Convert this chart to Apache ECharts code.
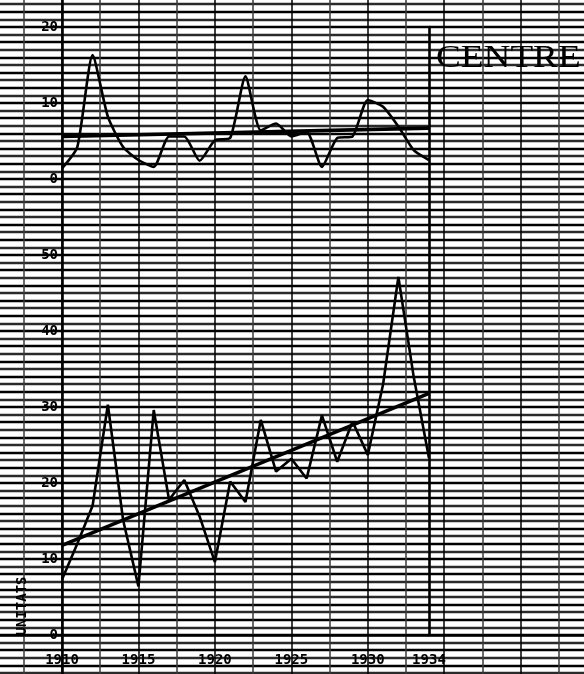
<!DOCTYPE html>
<html><head><meta charset="utf-8">
<script src="https://cdn.jsdelivr.net/npm/echarts@6/dist/echarts.min.js"></script>
<style>html,body{margin:0;padding:0;background:#fff}#c{width:584px;height:674px}</style>
</head><body><div id="c"></div>
<script>
// ---- data ----
const years = [1910,1911,1912,1913,1914,1915,1916,1917,1918,1919,1920,1921,1922,1923,1924,1925,1926,1927,1928,1929,1930,1931,1932,1933,1934];
const upperValues = [1.4,4.2,16.3,8.2,4.2,2.5,1.6,5.6,5.6,2.4,5.1,5.4,13.5,6.4,7.3,5.6,6.2,1.6,5.4,5.6,10.4,9.5,6.9,3.8,2.5];
const lowerValues = [7.3,12.0,17.0,30.3,15.1,6.4,29.6,17.8,20.4,15.6,9.6,20.2,17.5,28.3,21.5,23.2,20.6,28.9,22.8,28.1,23.7,33.0,47.1,34.0,23.3];
const trendYears = [1910, 1934];
const upperTrend = [5.6, 6.7];
const lowerTrend = [11.8, 31.8];
const xLabelYears = [1910, 1915, 1920, 1925, 1930, 1934];
const upperYTicks = [0, 10, 20];
const lowerYTicks = [0, 10, 20, 30, 40, 50];
const panelTitle = 'CENTRE';
const unitLabel = 'UNITATS';

// ---- layout ----
const X0 = 62, PXY = 15.29, Y0B = 635, PXU = 7.6;
const firstYear = years[0], lastYear = years[years.length - 1];
const plotW = (lastYear - firstYear) * PXY;
const upperMax = upperYTicks[upperYTicks.length - 1];
const lowerMax = lowerYTicks[lowerYTicks.length - 1];
const upperOffset = 60; // upper panel zero sits 60 paper units above lower zero
const monoFont = 'DejaVu Sans Mono';

const pairs = (xs, vs) => xs.map((x, i) => [x, vs[i]]);
const plain = v => String(v);

const chart = echarts.init(document.getElementById('c'), null, {renderer: 'canvas'});

const hidden = {show: false};
const panelX = (idx, labels) => ({
  gridIndex: idx, type: 'value', min: firstYear, max: lastYear, interval: 5,
  axisLine: hidden, axisTick: hidden, splitLine: hidden,
  axisLabel: labels ? {
    show: true, customValues: xLabelYears, showMaxLabel: true, margin: 18, formatter: plain,
    fontFamily: monoFont, fontSize: 14, fontWeight: 'bold', color: '#000'
  } : hidden
});
const panelY = (idx, max, show, pos) => ({
  gridIndex: idx, type: 'value', min: 0, max: max, interval: 10, position: pos || 'left',
  axisLine: pos === 'right' ? {show: true, lineStyle: {color: '#000', width: 2.6}} : hidden,
  axisTick: hidden, splitLine: hidden,
  axisLabel: show ? {show: true, margin: 4, formatter: plain, fontFamily: monoFont, fontSize: 14, fontWeight: 'bold', color: '#000'} : hidden
});

const option = {
  backgroundColor: '#fff',
  animation: false,
  grid: [
    // graph paper
    {left: X0 - 5 * PXY, width: 40 * PXY, top: Y0B - 90 * PXU, height: 100 * PXU, outerBoundsMode: 'none', containLabel: false},
    // upper panel
    {left: X0, width: plotW, top: Y0B - (upperOffset + upperMax) * PXU, height: upperMax * PXU, outerBoundsMode: 'none'},
    // lower panel
    {left: X0, width: plotW, top: Y0B - lowerMax * PXU, height: lowerMax * PXU, outerBoundsMode: 'none'},
    // frame (right border)
    {left: X0, width: plotW, top: Y0B - (upperOffset + upperMax) * PXU, height: (upperOffset + upperMax) * PXU, outerBoundsMode: 'none'}
  ],
  xAxis: [
    {gridIndex: 0, type: 'value', min: -5, max: 35, interval: 2.5,
     axisLine: {show: true, onZero: true, lineStyle: {color: '#000', width: 2.6}},
     axisTick: hidden, axisLabel: hidden,
     splitLine: {show: true, lineStyle: {color: ['#000', '#3a3a3a'], width: 1.5}}},
    panelX(1, false),
    panelX(2, true),
    panelX(3, false)
  ],
  yAxis: [
    {gridIndex: 0, type: 'value', min: -10, max: 90, interval: 1,
     axisLine: {show: true, onZero: true, lineStyle: {color: '#000', width: 2.6}},
     axisTick: hidden, axisLabel: hidden,
     splitLine: {show: true, lineStyle: {color: ['#000', '#2a2a2a'], width: 2.3}}},
    panelY(1, upperMax, true),
    panelY(2, lowerMax, true),
    panelY(3, upperOffset + upperMax, false, 'right')
  ],
  series: [
    {type: 'line', xAxisIndex: 1, yAxisIndex: 1, data: pairs(years, upperValues),
     showSymbol: false, smooth: 0.2, lineStyle: {color: '#000', width: 2.6}, z: 5},
    {type: 'line', xAxisIndex: 1, yAxisIndex: 1, data: pairs(trendYears, upperTrend),
     showSymbol: false, lineStyle: {color: '#000', width: 3.6}, z: 5},
    {type: 'line', xAxisIndex: 2, yAxisIndex: 2, data: pairs(years, lowerValues),
     showSymbol: false, lineStyle: {color: '#000', width: 2.6}, z: 5},
    {type: 'line', xAxisIndex: 2, yAxisIndex: 2, data: pairs(trendYears, lowerTrend),
     showSymbol: false, lineStyle: {color: '#000', width: 3.6}, z: 5}
  ],
  graphic: [
    {type: 'text', left: 436, top: 43, z: 10, scaleX: 1.2,
     style: {text: panelTitle, font: '31px "Liberation Serif"', fill: '#000'}},
    {type: 'text', x: 22, y: 606, rotation: Math.PI / 2, z: 10,
     style: {text: unitLabel, font: 'bold 14px "DejaVu Sans Mono"', fill: '#000',
             align: 'center', verticalAlign: 'middle'}}
  ]
};
chart.setOption(option);
</script>
</body></html>
